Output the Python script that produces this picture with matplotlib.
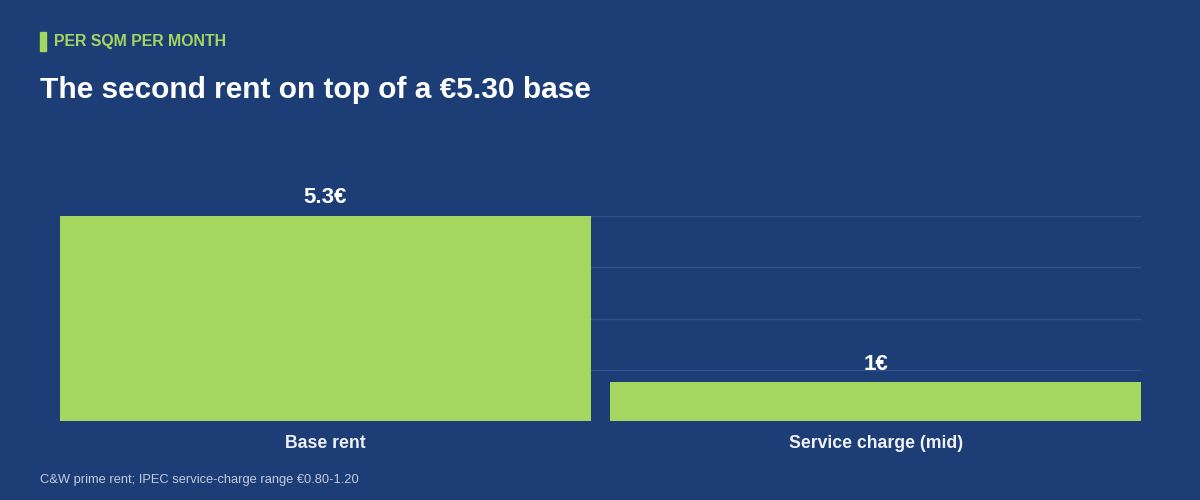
import numpy as np
import matplotlib
matplotlib.use("Agg")
import matplotlib.pyplot as plt
from matplotlib.patches import Rectangle

categories = ["Base rent", "Service charge (mid)"]
values = [5.3, 1.0]
value_labels = ["5.3€", "1€"]

eyebrow = "PER SQM PER MONTH"
title = "The second rent on top of a €5.30 base"
source = "C&W prime rent; IPEC service-charge range €0.80-1.20"

bg = "#1c3d75"
green = "#a5d65f"
grid_col = "#30528f"

plt.rcParams['font.family'] = ['Liberation Sans', 'DejaVu Sans']

fig = plt.figure(figsize=(12, 5), dpi=100, facecolor=bg)
ax = fig.add_axes([0.05, 0.158, 0.9008, 0.41])
ax.set_facecolor(bg)

x = np.arange(len(categories))
w = 0.9646
ymax = max(values)
for yv in np.linspace(0, ymax, 5)[1:]:
    ax.axhline(yv, color=grid_col, lw=1, zorder=0)
ax.bar(x, values, width=w, color=green, zorder=2)
for xi, v, lab in zip(x, values, value_labels):
    ax.annotate(lab, (xi, v), xytext=(0, 5.5), textcoords="offset points",
                ha="center", va="bottom", color="white", fontsize=16,
                fontweight="bold", clip_on=False)

ax.set_xlim(-w / 2, len(categories) - 1 + w / 2)
ax.set_ylim(0, ymax)
ax.set_xticks(x)
ax.set_xticklabels(categories, color="#eef1f6", fontsize=12.7, fontweight="bold")
ax.tick_params(axis="x", length=0, pad=10)
ax.set_yticks([])
for s in ax.spines.values():
    s.set_visible(False)

fig.patches.append(Rectangle((40 / 1200, 1 - 51 / 500), 6 / 1200, 19 / 500,
                             transform=fig.transFigure, color=green))
fig.text(54 / 1200, 1 - 41.5 / 500, eyebrow, color=green, fontsize=11.4,
         fontweight="bold", va="center")
fig.text(40 / 1200, 1 - 98 / 500, title, color="white", fontsize=21.5,
         fontweight="bold", va="baseline")
fig.text(40 / 1200, 1 - 483 / 500, source, color="#c3cbdb", fontsize=9.3,
         va="baseline")

fig.savefig("out.png", facecolor=bg)
